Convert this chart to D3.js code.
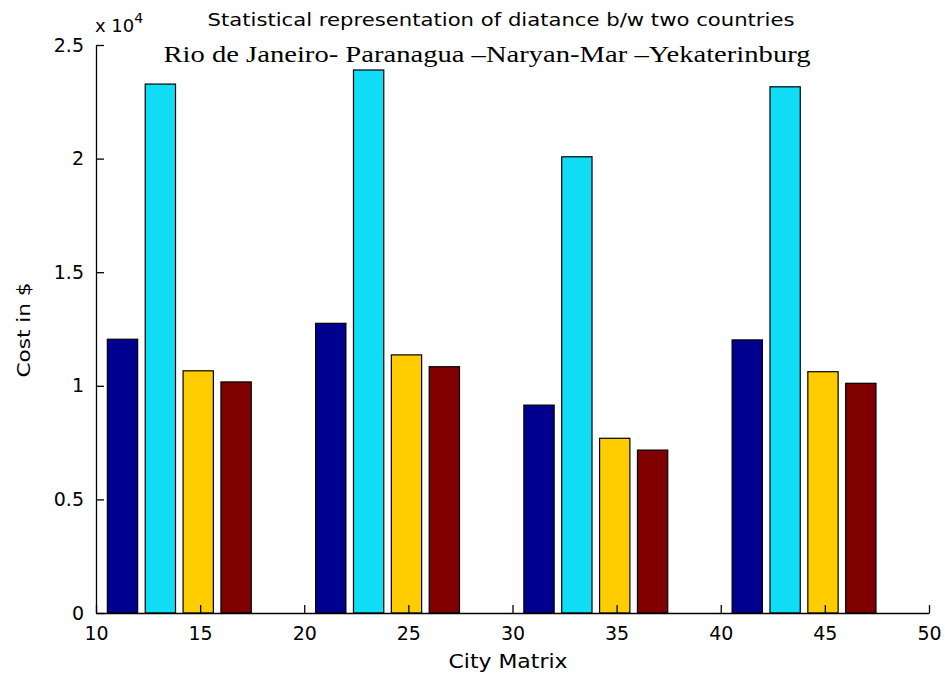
<!DOCTYPE html>
<html>
<head>
<meta charset="utf-8">
<script src="https://cdn.jsdelivr.net/npm/d3@7"></script>
<style>
  html, body { margin: 0; padding: 0; background: #ffffff; }
  svg { display: block; }
  text { fill: #000; }
</style>
</head>
<body>
<svg id="chart" width="945" height="679"></svg>
<script>
// ---- data ----
const groupPositions = [14, 24, 34, 44];
const seriesNames = ["s1", "s2", "s3", "s4"];
const series1 = [12050, 12750, 9150, 12020];
const series2 = [23280, 23900, 20080, 23160];
const series3 = [10660, 11360, 7690, 10620];
const series4 = [10170, 10840, 7170, 10110];
const seriesColors = ["#00008f", "#10dcf6", "#ffcc00", "#800000"];
const xTickValues = [10, 15, 20, 25, 30, 35, 40, 45, 50];
const yTickValues = [0, 5000, 10000, 15000, 20000, 25000];
const yTickLabels = ["0", "0.5", "1", "1.5", "2", "2.5"];
const titleLine1 = "Statistical representation of diatance b/w two countries";
const titleLine2 = "Rio de Janeiro- Paranagua \u2013Naryan-Mar \u2013Yekaterinburg";
const xLabel = "City Matrix";
const yLabel = "Cost in $";

const allSeries = [series1, series2, series3, series4];

// ---- layout ----
const svg = d3.select("#chart");
const plotLeft = 96, plotRight = 929, plotTop = 45, plotBottom = 613;

const x = d3.scaleLinear().domain([10, 50]).range([plotLeft, plotRight]);
const y = d3.scaleLinear().domain([0, 25000]).range([plotBottom, plotTop]);

// MATLAB-style grouped bar offsets (in data units)
const spacing = 10;
const n = seriesNames.length;
const groupWidth = Math.min(0.8, n / (n + 1.5)) * spacing;
const offset = d3.scaleBand().domain(seriesNames)
  .range([-groupWidth / 2, groupWidth / 2])
  .paddingInner(0.2).paddingOuter(0.1);

const sans = "'DejaVu Sans', sans-serif";
const textColor = "#1a1a1a";

// bars
allSeries.forEach((vals, si) => {
  svg.append("g").selectAll("rect")
    .data(vals)
    .join("rect")
    .attr("x", (d, i) => x(groupPositions[i] + offset(seriesNames[si])))
    .attr("width", (d, i) => x(groupPositions[i] + offset(seriesNames[si]) + offset.bandwidth()) - x(groupPositions[i] + offset(seriesNames[si])))
    .attr("y", d => y(d))
    .attr("height", d => y(0) - y(d))
    .attr("fill", seriesColors[si])
    .attr("stroke", "#000")
    .attr("stroke-width", 1.2);
});

// x axis
const xAxis = d3.axisBottom(x).tickValues(xTickValues).tickSizeInner(-8).tickSizeOuter(0).tickPadding(14)
  .tickFormat(d3.format("d"));
const gx = svg.append("g").attr("transform", `translate(0,${plotBottom})`).call(xAxis);
gx.select(".domain").attr("stroke", "#000").attr("stroke-width", 1.3);
gx.selectAll(".tick line").attr("stroke", "#000").attr("stroke-width", 1.3);
gx.selectAll(".tick text").attr("font-family", sans).attr("font-size", 19).attr("fill", textColor);

// y axis
const yAxis = d3.axisLeft(y).tickValues(yTickValues).tickSizeInner(-8).tickSizeOuter(0).tickPadding(12)
  .tickFormat((d, i) => yTickLabels[i]);
const gy = svg.append("g").attr("transform", `translate(${plotLeft},0)`).call(yAxis);
gy.select(".domain").attr("stroke", "#000").attr("stroke-width", 1.3);
gy.selectAll(".tick line").attr("stroke", "#000").attr("stroke-width", 1.3);
gy.selectAll(".tick text").attr("font-family", sans).attr("font-size", 19).attr("fill", textColor);

// exponent label
const exp = svg.append("text").attr("x", 95).attr("y", 32)
  .attr("font-family", sans).attr("font-size", 18).attr("fill", textColor);
exp.append("tspan").text("x 10");
exp.append("tspan").attr("dy", -9).attr("font-size", 14).text("4");

// titles
svg.append("text").attr("x", 501).attr("y", 26).attr("text-anchor", "middle")
  .attr("font-family", sans).attr("font-size", 18).attr("fill", textColor)
  .attr("textLength", 587).attr("lengthAdjust", "spacingAndGlyphs")
  .text(titleLine1);
svg.append("text").attr("x", 487).attr("y", 62).attr("text-anchor", "middle")
  .attr("font-family", "'Liberation Serif', 'Times New Roman', serif").attr("font-size", 23)
  .attr("textLength", 647).attr("lengthAdjust", "spacingAndGlyphs")
  .text(titleLine2);

// axis labels
svg.append("text").attr("x", 508).attr("y", 668).attr("text-anchor", "middle")
  .attr("font-family", sans).attr("font-size", 19).attr("fill", textColor)
  .attr("textLength", 119).attr("lengthAdjust", "spacingAndGlyphs")
  .text(xLabel);
svg.append("text").attr("transform", "translate(30,330) rotate(-90)").attr("text-anchor", "middle")
  .attr("font-family", sans).attr("font-size", 18).attr("fill", textColor)
  .attr("textLength", 95).attr("lengthAdjust", "spacingAndGlyphs")
  .text(yLabel);
</script>
</body>
</html>
